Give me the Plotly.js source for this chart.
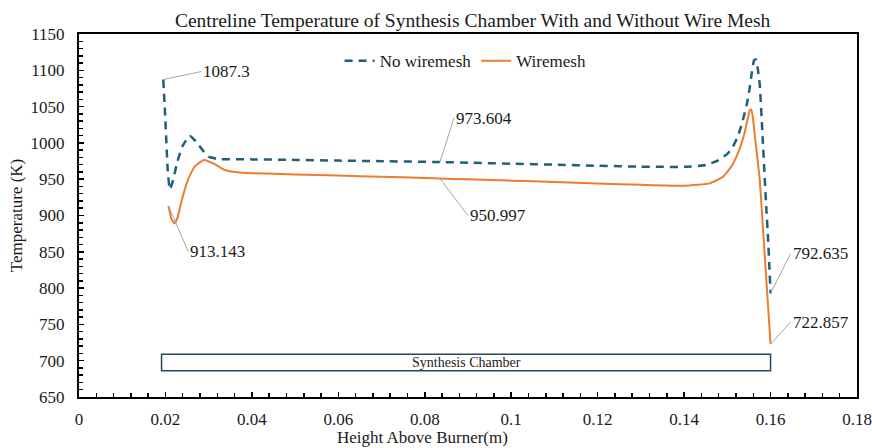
<!DOCTYPE html>
<html>
<head>
<meta charset="utf-8">
<script src="https://cdn.plot.ly/plotly-3.0.1.min.js"></script>
<style>
  html, body { margin: 0; padding: 0; background: #fff; }
  #chart { width: 872px; height: 448px; }
</style>
</head>
<body>
<div id="chart"></div>
<script>
// Centreline temperature profiles (K) against height above the burner (m)
const heightNoMesh = [0.0195, 0.0200, 0.0205, 0.0210, 0.0216, 0.0228, 0.0240, 0.0256, 0.0272, 0.0286, 0.0300, 0.0320,
  0.0400, 0.0500, 0.0600, 0.0700, 0.0835, 0.0900, 0.1000, 0.1100, 0.1200, 0.1300, 0.1400, 0.1450, 0.1480,
  0.1500, 0.1513, 0.1525, 0.1536, 0.1545, 0.1551, 0.1557, 0.1562, 0.1566, 0.1570, 0.1575, 0.1582, 0.1590, 0.1594, 0.1600];
const tempNoMesh = [1087.3, 1030, 965, 936, 945, 975, 996, 1010, 1001, 990, 981, 977.8,
  977.3, 976.6, 975.6, 974.8, 973.604, 972.8, 971.4, 970.0, 968.5, 967.3, 967.0, 969.5, 976.4,
  985, 994.8, 1010, 1031.5, 1053, 1072.9, 1098, 1114, 1115, 1104, 1080, 1004, 912, 871, 792.635];

const heightMesh = [0.0207, 0.0214, 0.0221, 0.0228, 0.0236, 0.0252, 0.0267, 0.0289, 0.0313, 0.0337, 0.0367,
  0.0400, 0.0500, 0.0600, 0.0700, 0.0835, 0.0900, 0.1000, 0.1100, 0.1200, 0.1300, 0.1400, 0.1459, 0.1490,
  0.1510, 0.1521, 0.1532, 0.1540, 0.1547, 0.1552, 0.1555, 0.1559, 0.1563, 0.1575, 0.1584, 0.1600];
const tempMesh = [913.143, 895, 889, 897, 917, 949, 967, 976.4, 971, 962.7, 959.5,
  958.3, 956.5, 955.0, 953.4, 950.997, 949.8, 948.0, 946.0, 944.0, 942.2, 941.0, 944.3, 953.4,
  968, 981, 998, 1014, 1033, 1045, 1046, 1036, 1013, 949, 868, 722.857];

// Labelled values: [height, temperature, label offset x, label offset y]
const callouts = [
  [0.0195, 1087.3, 38, -8],
  [0.0835, 973.604, 14, -44],
  [0.0835, 950.997, 28, 37],
  [0.0207, 913.143, 20, 46],
  [0.1600, 792.635, 20, -40],
  [0.1600, 722.857, 20, -22]
];

// Synthesis chamber extent
const chamberLabel = "Synthesis Chamber";
const chamberX = [0.0191, 0.16];
const chamberY = [686, 709];

const xTicks = [0, 0.02, 0.04, 0.06, 0.08, 0.1, 0.12, 0.14, 0.16, 0.18];
const xTickText = ["0", "0.02", "0.04", "0.06", "0.08", "0.1", "0.12", "0.14", "0.16", "0.18"];
const yTicks = [650, 700, 750, 800, 850, 900, 950, 1000, 1050, 1100, 1150];

const serif = "Liberation Serif";
const ink = "#1a1a1a";
const blue = "#1f5f7c";
const orange = "#ed7d31";

const traces = [
  {
    x: heightNoMesh, y: tempNoMesh, name: "No wiremesh", type: "scatter", mode: "lines",
    line: { color: blue, width: 2.5, dash: "8px,6px", shape: "spline", smoothing: 0.4 }
  },
  {
    x: heightMesh, y: tempMesh, name: "Wiremesh", type: "scatter", mode: "lines",
    line: { color: orange, width: 2, shape: "spline", smoothing: 0.4 }
  }
];

const annotations = callouts.map(c => ({
  x: c[0], y: c[1], xref: "x", yref: "y",
  text: String(c[1]),
  showarrow: true, arrowhead: 0, arrowwidth: 1, arrowcolor: "#a6a6a6",
  ax: c[2], ay: c[3], xanchor: "left", yanchor: "middle",
  font: { family: serif, size: 17, color: ink }
}));

annotations.push({
  x: (chamberX[0] + chamberX[1]) / 2, y: (chamberY[0] + chamberY[1]) / 2,
  xref: "x", yref: "y", text: chamberLabel, showarrow: false,
  font: { family: serif, size: 14, color: ink }
});

// x-axis title, set a little left of the plot centre
annotations.push({
  x: 0.441, xref: "paper", xanchor: "center",
  y: 438, yref: "paper", yanchor: "middle",
  text: "Height Above Burner(m)", showarrow: false,
  font: { family: serif, size: 17, color: ink }
});

const axisCommon = {
  showline: true, linecolor: "#000", linewidth: 2, mirror: true,
  ticks: "inside", ticklen: 5, tickwidth: 1.5, tickcolor: "#000",
  showgrid: false, zeroline: false,
  tickfont: { family: serif, size: 17, color: ink }
};

const layout = {
  width: 872, height: 448,
  margin: { l: 79, r: 15, t: 34, b: 51 },
  paper_bgcolor: "#fff", plot_bgcolor: "#fff",
  font: { family: serif, color: ink },
  title: {
    text: "Centreline Temperature of Synthesis Chamber With and Without Wire Mesh",
    font: { family: serif, size: 19.5, color: ink },
    x: 0.542, xanchor: "center", y: 0.955, yanchor: "middle"
  },
  xaxis: Object.assign({}, axisCommon, {
    range: [0, 0.18], tickvals: xTicks, ticktext: xTickText, ticklabelstandoff: 6,
    minor: { dtick: 0.004, ticks: "inside", ticklen: 4, tickwidth: 1.5, tickcolor: "#000" }
  }),
  yaxis: Object.assign({}, axisCommon, {
    range: [650, 1150], tickvals: yTicks, ticklabelstandoff: 9,
    minor: { dtick: 10, ticks: "inside", ticklen: 4, tickwidth: 1.5, tickcolor: "#000" },
    title: { text: "Temperature (K)", standoff: 4,
      font: { family: serif, size: 17, color: ink } }
  }),
  legend: {
    orientation: "h", x: 0.335, xanchor: "left", y: 0.925, yanchor: "middle",
    font: { family: serif, size: 17, color: ink },
    bgcolor: "rgba(0,0,0,0)", itemwidth: 30
  },
  shapes: [{
    type: "rect", xref: "x", yref: "y",
    x0: chamberX[0], x1: chamberX[1], y0: chamberY[0], y1: chamberY[1],
    line: { color: "#2a4657", width: 1.5 }, fillcolor: "#fff", layer: "below"
  }],
  annotations: annotations
};

// paper y for the x-axis title, from its pixel row
layout.annotations[layout.annotations.length - 1].y =
  1 - (438 - layout.margin.t) / (layout.height - layout.margin.t - layout.margin.b);

Plotly.newPlot("chart", traces, layout, { displayModeBar: false, staticPlot: true });
</script>
</body>
</html>
